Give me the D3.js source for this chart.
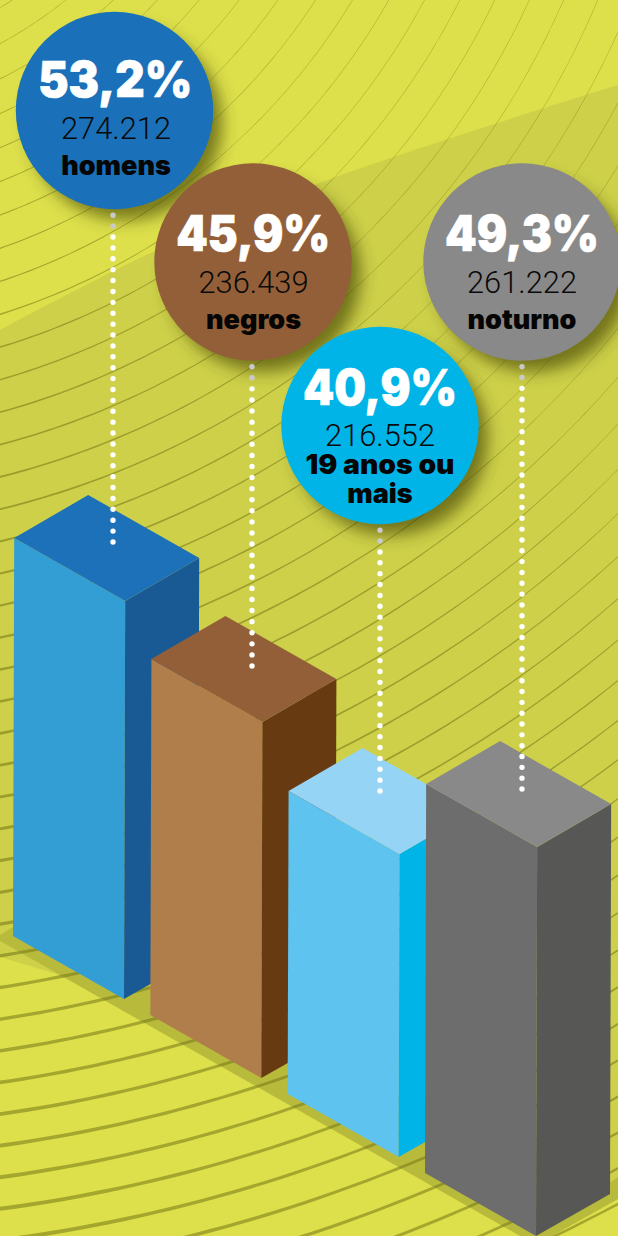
<!DOCTYPE html>
<html lang="pt">

<head>
  <meta charset="utf-8">
  <title>Perfil</title>
  <script src="https://d3js.org/d3.v7.min.js" charset="utf-8"></script>
  <style type="text/css">
    html, body { margin: 0; padding: 0; background: #dde04a; }
    svg { display: block; }
    text { text-anchor: middle; }
    .pct { font-family: Inter, sans-serif; font-weight: 900; font-size: 50px; fill: #fff; stroke: #fff; stroke-width: 0.7px; }
    .num { font-family: Roboto, sans-serif; font-weight: 300; font-size: 31px; fill: #0a0a0a; }
    .lab { font-family: Inter, sans-serif; font-weight: 900; font-size: 27px; fill: #050505; }
  </style>
</head>

<body>
  <script type="text/javascript">

    // values
    var categories = ["homens", "negros", "19 anos ou mais", "noturno"];
    var percents = [53.2, 45.9, 40.9, 49.3];
    var counts = [274212, 236439, 216552, 261222];

    // the artwork is not strictly proportional, so the height scale has a knot per value
    var heightDomain = [40.9, 45.9, 49.3, 53.2];
    var heightRange = [303, 356, 389, 398];

    var colors = [
      { front: "#339ed4", top: "#1d71b8", side: "#1a5a94", bubble: "#1b71b9" },
      { front: "#af7e4b", top: "#935f38", side: "#673a12", bubble: "#935f38" },
      { front: "#5fc3f0", top: "#96d4f6", side: "#00b4e8", bubble: "#00b4e8" },
      { front: "#6d6d6d", top: "#8a8989", side: "#575756", bubble: "#8a8989" }
    ];

    // bubble layout
    var bubbleX = [114.5, 253, 380, 522];
    var bubbleY = [110.5, 262, 425.5, 262];
    var textDx = [1.5, 0.5, 0, 0];
    var textDy = [-2.5, 0, 0, 0];
    var leaderX = [113, 252, 380, 522];
    var leaderEnd = [542, 666, 791, 789];
    var R = 98.7;

    var W = 618, H = 1236;

    var br = d3.formatLocale({ decimal: ",", thousands: ".", grouping: [3], currency: ["R$", ""] });
    var fmtCount = br.format(",d");
    var fmtPct = br.format(".1f");

    var svg = d3.select("body").append("svg")
      .attr("width", W)
      .attr("height", H);

    var defs = svg.append("defs");
    defs.append("filter").attr("id", "soft")
      .attr("x", "-30%").attr("y", "-30%").attr("width", "160%").attr("height", "160%")
      .append("feGaussianBlur").attr("stdDeviation", 8);

    // background
    svg.append("rect").attr("width", W).attr("height", H).attr("fill", "#dde04a");

    var poly = d3.line();
    var swoosh = d3.line().curve(d3.curveCatmullRom);

    var upper = swoosh([[0, 330], [157, 250], [333, 178], [618, 85]]);
    svg.append("path")
      .attr("d", upper + "L618,1199L561,1231L536,1245L60,975L0,957Z")
      .attr("fill", "#cdd048");

    // concentric contour lines, thick at lower left and tapering off to the right
    var cx = -206, cy = -338;
    var radii = d3.range(-12, 33).map(function (k) { return 778 + k * 31.3; });
    var angles = d3.range(0, 1.42, 0.01);
    function lineWidth(r, u) {
      return Math.max(0.45, 0.003 * r * (1 - 1.1 * u));
    }
    var contours = svg.append("g").attr("transform", "translate(" + cx + "," + cy + ")");
    contours.selectAll("path")
      .data(radii)
      .enter()
      .append("path")
      .attr("fill", "#60600a")
      .attr("fill-opacity", 0.45)
      .attr("d", function (r) {
        return d3.areaRadial()
          .angle(function (u) { return Math.PI - u; })
          .innerRadius(function (u) { return r - lineWidth(r, u) / 2; })
          .outerRadius(function (u) { return r + lineWidth(r, u) / 2; })(angles);
      });

    // ground shadow under the bars
    svg.append("path")
      .attr("d", poly([[0, 935], [13, 927], [611, 1182], [618, 1177], [618, 1199], [561, 1231], [536, 1245], [0, 941]]) + "Z")
      .attr("fill", "#80801a")
      .attr("fill-opacity", 0.27);

    // bars
    var baseX = d3.scalePoint().domain(categories).range([124, 536]);
    var baseY = d3.scalePoint().domain(categories).range([999, 1236]);
    var barHeight = d3.scaleLinear().domain(heightDomain).range(heightRange);

    var frontW = 111, dropL = 63, sideW = 74, riseR = 42, lean = 0.003;

    var bars = svg.append("g").selectAll("g")
      .data(categories)
      .enter()
      .append("g");

    function corners(c, i) {
      var x = baseX(c), y = baseY(c), h = barHeight(percents[i]);
      var tx = x + h * lean, ty = y - h;
      return {
        bf: [x, y], bl: [x - frontW, y - dropL], br: [x + sideW, y - riseR],
        tf: [tx, ty], tl: [tx - frontW, ty - dropL], tr: [tx + sideW, ty - riseR - 1],
        tb: [tx + sideW - frontW, ty - dropL - riseR - 1]
      };
    }

    bars.append("path")
      .attr("d", function (c, i) { var p = corners(c, i); return poly([p.tl, p.tf, p.bf, p.bl]) + "Z"; })
      .attr("fill", function (c, i) { return colors[i].front; });
    bars.append("path")
      .attr("d", function (c, i) { var p = corners(c, i); return poly([p.tf, p.tr, p.br, p.bf]) + "Z"; })
      .attr("fill", function (c, i) { return colors[i].side; });
    bars.append("path")
      .attr("d", function (c, i) { var p = corners(c, i); return poly([p.tl, p.tb, p.tr, p.tf]) + "Z"; })
      .attr("fill", function (c, i) { return colors[i].top; });

    // bubble shadows go under the dots
    svg.append("g").selectAll("circle")
      .data(categories)
      .enter()
      .append("circle")
      .attr("cx", function (c, i) { return bubbleX[i] + 11; })
      .attr("cy", function (c, i) { return bubbleY[i] + 13; })
      .attr("r", R - 2)
      .attr("fill", "#3c3c08")
      .attr("fill-opacity", 0.62)
      .attr("filter", "url(#soft)");

    // dotted leaders: the first two dots sit in the shadow and look grey
    function dotStart(i) { return bubbleY[i] + R + 6; }
    function dotGap(i) {
      return (leaderEnd[i] - dotStart(i)) / Math.round((leaderEnd[i] - dotStart(i)) / 10.9);
    }

    var leaders = svg.append("g").selectAll("g")
      .data(categories)
      .enter()
      .append("g");

    leaders.append("line")
      .attr("x1", function (c, i) { return leaderX[i]; })
      .attr("x2", function (c, i) { return leaderX[i]; })
      .attr("y1", function (c, i) { return dotStart(i); })
      .attr("y2", function (c, i) { return dotStart(i) + dotGap(i) + 0.5; })
      .attr("stroke", "#c9c9cb")
      .attr("stroke-width", 5.4)
      .attr("stroke-linecap", "round")
      .attr("stroke-dasharray", function (c, i) { return "0 " + dotGap(i); });

    leaders.append("line")
      .attr("x1", function (c, i) { return leaderX[i]; })
      .attr("x2", function (c, i) { return leaderX[i]; })
      .attr("y1", function (c, i) { return dotStart(i) + 2 * dotGap(i); })
      .attr("y2", function (c, i) { return leaderEnd[i] + 0.5; })
      .attr("stroke", "#fff")
      .attr("stroke-width", 5.4)
      .attr("stroke-linecap", "round")
      .attr("stroke-dasharray", function (c, i) { return "0 " + dotGap(i); });

    // bubbles
    var bubbles = svg.append("g").selectAll("g")
      .data(categories)
      .enter()
      .append("g")
      .attr("transform", function (c, i) { return "translate(" + bubbleX[i] + "," + bubbleY[i] + ")"; });

    bubbles.append("circle")
      .attr("r", R)
      .attr("fill", function (c, i) { return colors[i].bubble; });

    // the long label wraps to two lines, so its bubble sits everything a bit higher
    function twoLine(c) { return c.length > 10; }

    bubbles.append("text")
      .attr("class", "pct")
      .attr("x", function (c, i) { return textDx[i] / 2; })
      .attr("y", function (c, i) { return (twoLine(c) ? -20.5 : -11) + textDy[i]; })
      .attr("textLength", 154)
      .attr("lengthAdjust", "spacingAndGlyphs")
      .text(function (c, i) { return fmtPct(percents[i]) + "%"; });

    bubbles.append("text")
      .attr("class", "num")
      .attr("x", function (c, i) { return textDx[i]; })
      .attr("y", function (c, i) { return (twoLine(c) ? 20 : 31) + textDy[i]; })
      .attr("textLength", 110)
      .attr("lengthAdjust", "spacingAndGlyphs")
      .text(function (c, i) { return fmtCount(counts[i]); });

    bubbles.each(function (c, i) {
      var g = d3.select(this);
      if (twoLine(c)) {
        g.append("text").attr("class", "lab").attr("y", 48.5)
          .attr("textLength", 149).attr("lengthAdjust", "spacingAndGlyphs").text("19 anos ou");
        g.append("text").attr("class", "lab").attr("y", 77.5).text("mais");
      } else {
        g.append("text").attr("class", "lab")
          .attr("x", textDx[i])
          .attr("y", 67 + textDy[i]).text(c);
      }
    });

  </script>
</body>

</html>
